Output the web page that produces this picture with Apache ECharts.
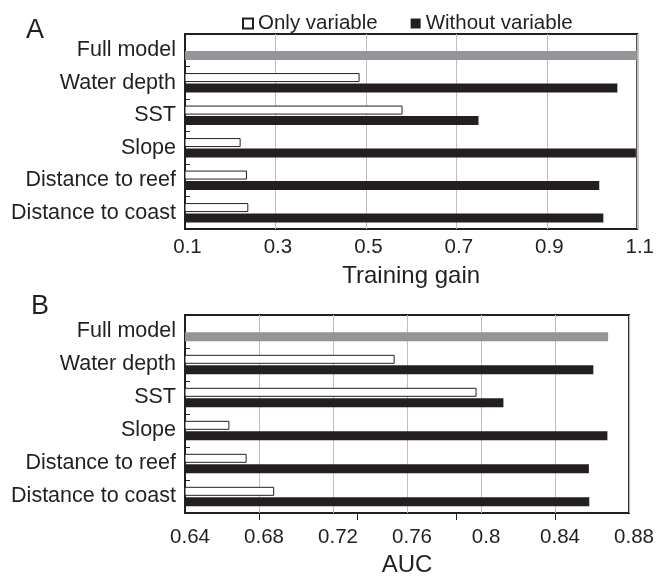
<!DOCTYPE html>
<html>
<head>
<meta charset="utf-8">
<script src="https://cdn.jsdelivr.net/npm/echarts@6/dist/echarts.min.js"></script>
<style>
html,body{margin:0;padding:0;background:#fff;}
#chart{width:657px;height:578px;}
</style>
</head>
<body>
<div id="chart"></div>
<script>
// ---- data ----
const categories = ['Full model', 'Water depth', 'SST', 'Slope', 'Distance to reef', 'Distance to coast'];
const seriesNames = ['Only variable', 'Without variable'];
// Panel A: training gain
const gainOnly    = ['-', 0.486, 0.581, 0.223, 0.237, 0.240];
const gainWithout = [1.10, 1.056, 0.749, 1.097, 1.016, 1.025];
// Panel B: AUC
const aucOnly     = ['-', 0.7533, 0.7976, 0.664, 0.6733, 0.6882];
const aucWithout  = [0.8687, 0.8607, 0.8121, 0.8683, 0.8583, 0.8585];
// Axis ticks
const gainTicks = [0.1, 0.3, 0.5, 0.7, 0.9, 1.1];
const aucTicks  = [0.64, 0.68, 0.72, 0.76, 0.8, 0.84, 0.88];
const aucOuterTicks = [0.68, 0.7333, 0.7867, 0.84];

const INK = '#231f20';
const GRAY = '#939598';
const FONT = 'Liberation Sans';

function withFullModel(arr) {
  return arr.map((v, i) => i === 0 ? { value: v, itemStyle: { color: GRAY } } : v);
}

const chart = echarts.init(document.getElementById('chart'), null, { renderer: 'canvas' });

function yAxis(gi) {
  return {
    type: 'category', gridIndex: gi, data: categories, inverse: true,
    axisLine: { show: true, lineStyle: { color: INK, width: 1 } },
    axisTick: { show: true, inside: true, length: 5, lineStyle: { color: INK } },
    axisLabel: { color: INK, fontSize: 21.5, fontFamily: FONT, margin: 9, padding: [0, 0, 3, 0] },
    splitLine: { show: false }
  };
}

const option = {
  backgroundColor: '#fff',
  animation: false,
  textStyle: { fontFamily: FONT },
  title: [
    { text: 'A', left: 21, top: 12, textStyle: { fontSize: 27, fontWeight: 'normal', color: INK, fontFamily: FONT } },
    { text: 'B', left: 26, top: 288, textStyle: { fontSize: 27, fontWeight: 'normal', color: INK, fontFamily: FONT } }
  ],
  legend: {
    data: seriesNames, left: 237, top: 8, icon: 'rect',
    itemWidth: 10, itemHeight: 10, itemGap: 33,
    textStyle: { fontSize: 20.5, color: INK, fontFamily: FONT }
  },
  grid: [
    { left: 185, top: 34, width: 453, height: 195, show: true, borderColor: INK, borderWidth: 2 },
    { left: 185, top: 315, width: 446, height: 199, show: true, borderColor: INK, borderWidth: 2 }
  ],
  xAxis: [
    {
      type: 'value', gridIndex: 0, min: gainTicks[0], max: gainTicks[gainTicks.length - 1], interval: 0.2,
      name: 'Training gain', nameLocation: 'middle', nameGap: 35,
      nameTextStyle: { fontSize: 24, color: INK, fontFamily: FONT },
      axisLine: { show: false }, axisTick: { show: false },
      axisLabel: { color: INK, fontSize: 20.5, fontFamily: FONT, margin: 8, padding: [0, 0, 0, 5],
        formatter: v => v.toFixed(1) },
      splitLine: { show: true, lineStyle: { color: '#bcbec0', width: 1 } }
    },
    {
      type: 'value', gridIndex: 1, min: aucTicks[0], max: aucTicks[aucTicks.length - 1], interval: 0.04,
      name: 'AUC', nameLocation: 'middle', nameGap: 40,
      nameTextStyle: { fontSize: 24, color: INK, fontFamily: FONT },
      axisLine: { show: false }, axisTick: { show: false },
      axisLabel: { color: INK, fontSize: 20.5, fontFamily: FONT, margin: 14, padding: [0, 0, 0, 10],
        formatter: v => String(+v.toFixed(2)) },
      splitLine: { show: true, lineStyle: { color: '#bcbec0', width: 1 } }
    },
    {
      type: 'value', gridIndex: 1, position: 'bottom', min: aucTicks[0], max: aucTicks[aucTicks.length - 1],
      axisLine: { show: true, lineStyle: { color: INK, width: 2, opacity: 0 } },
      axisTick: { show: true, customValues: aucOuterTicks, length: 7, lineStyle: { color: INK, width: 1 } },
      axisLabel: { show: false, customValues: aucOuterTicks }, splitLine: { show: false }
    }
  ],
  yAxis: [yAxis(0), yAxis(1)],
  series: [
    { name: seriesNames[0], type: 'bar', xAxisIndex: 0, yAxisIndex: 0, data: gainOnly,
      barWidth: 9, barGap: '15%', itemStyle: { color: '#fff', borderColor: INK, borderWidth: 1 } },
    { name: seriesNames[1], type: 'bar', xAxisIndex: 0, yAxisIndex: 0, data: withFullModel(gainWithout),
      barWidth: 9, barGap: '15%', itemStyle: { color: INK } },
    { name: seriesNames[0], type: 'bar', xAxisIndex: 1, yAxisIndex: 1, data: aucOnly,
      barWidth: 9, barGap: '15%', itemStyle: { color: '#fff', borderColor: INK, borderWidth: 1 } },
    { name: seriesNames[1], type: 'bar', xAxisIndex: 1, yAxisIndex: 1, data: withFullModel(aucWithout),
      barWidth: 9, barGap: '15%', itemStyle: { color: INK } }
  ]
};
chart.setOption(option);
</script>
</body>
</html>
